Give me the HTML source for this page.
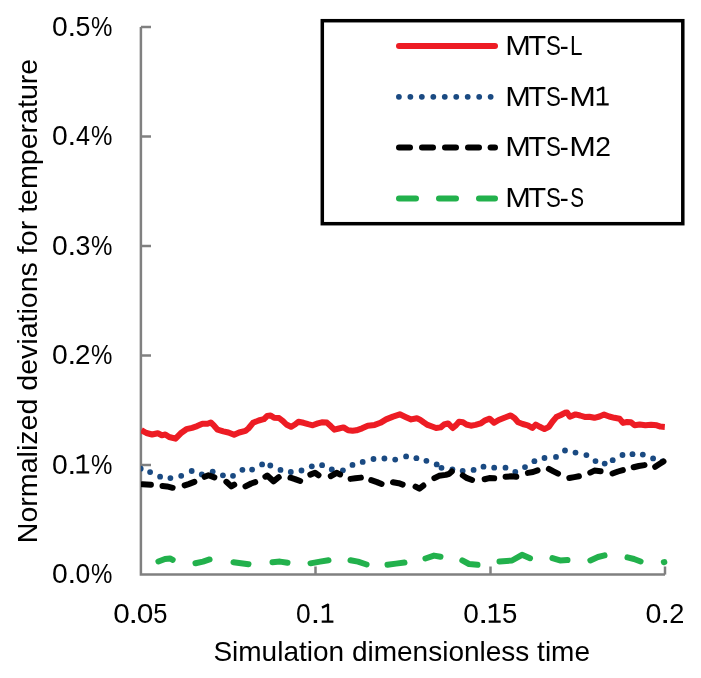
<!DOCTYPE html><html><head><meta charset="utf-8"><style>html,body{margin:0;padding:0;background:#fff;width:701px;height:678px;overflow:hidden}svg{display:block}text{font-family:"Liberation Sans",sans-serif;fill:#000}svg{will-change:transform}</style></head><body>
<svg width="701" height="678" viewBox="0 0 701 678">
<rect width="701" height="678" fill="#fff"/>
<defs><clipPath id="pc"><rect x="141" y="0" width="560" height="574"/></clipPath></defs>
<g stroke="#808080" stroke-width="2.5" fill="none">
<path d="M140.9,27V574.6H665"/>
<path d="M140.9,27H151"/>
<path d="M140.9,136.5H151"/>
<path d="M140.9,246H151"/>
<path d="M140.9,355.5H151"/>
<path d="M140.9,465H151"/>
<path d="M315.5,574.6V566.5"/>
<path d="M490.5,574.6V566.5"/>
<path d="M665,574.6V566.5"/>
</g>
<text transform="translate(52.00,35.60) scale(1.009,1)" font-size="28">0</text>
<text transform="translate(67.46,35.60) scale(1.116,1)" font-size="28">.</text>
<text transform="translate(75.43,35.60) scale(0.957,1)" font-size="28">5</text>
<text transform="translate(91.03,35.60) scale(0.860,1)" font-size="28">%</text>
<text transform="translate(52.00,145.10) scale(1.009,1)" font-size="28">0</text>
<text transform="translate(67.46,145.10) scale(1.116,1)" font-size="28">.</text>
<text transform="translate(75.92,145.10) scale(0.900,1)" font-size="28">4</text>
<text transform="translate(91.03,145.10) scale(0.860,1)" font-size="28">%</text>
<text transform="translate(52.00,254.60) scale(1.009,1)" font-size="28">0</text>
<text transform="translate(67.46,254.60) scale(1.116,1)" font-size="28">.</text>
<text transform="translate(75.48,254.60) scale(0.957,1)" font-size="28">3</text>
<text transform="translate(91.03,254.60) scale(0.860,1)" font-size="28">%</text>
<text transform="translate(52.00,364.10) scale(1.009,1)" font-size="28">0</text>
<text transform="translate(67.46,364.10) scale(1.116,1)" font-size="28">.</text>
<text transform="translate(75.11,364.10) scale(0.995,1)" font-size="28">2</text>
<text transform="translate(91.03,364.10) scale(0.860,1)" font-size="28">%</text>
<text transform="translate(52.00,473.60) scale(1.009,1)" font-size="28">0</text>
<text transform="translate(67.46,473.60) scale(1.116,1)" font-size="28">.</text>
<path d="M83.36,454.96V473.60M83.96,455.26L76.80,458.55M76.50,472.45H89.20" fill="none" stroke="#000" stroke-width="2.3" stroke-linejoin="round"/>
<text transform="translate(91.03,473.60) scale(0.860,1)" font-size="28">%</text>
<text transform="translate(52.00,583.10) scale(1.009,1)" font-size="28">0</text>
<text transform="translate(67.46,583.10) scale(1.116,1)" font-size="28">.</text>
<text transform="translate(75.46,583.10) scale(0.949,1)" font-size="28">0</text>
<text transform="translate(91.03,583.10) scale(0.860,1)" font-size="28">%</text>
<text transform="translate(113.14,622.70) scale(1.061,1)" font-size="28">0</text>
<text transform="translate(128.57,622.70) scale(1.228,1)" font-size="28">.</text>
<text transform="translate(136.63,622.70) scale(1.068,1)" font-size="28">0</text>
<text transform="translate(153.18,622.70) scale(0.912,1)" font-size="28">5</text>
<text transform="translate(296.07,622.70) scale(0.941,1)" font-size="28">0</text>
<text transform="translate(310.48,622.70) scale(1.265,1)" font-size="28">.</text>
<path d="M328.02,604.06V622.70M328.62,604.36L322.00,607.65M321.70,621.55H333.40" fill="none" stroke="#000" stroke-width="2.3" stroke-linejoin="round"/>
<text transform="translate(463.31,622.70) scale(1.001,1)" font-size="28">0</text>
<text transform="translate(477.89,622.70) scale(1.339,1)" font-size="28">.</text>
<path d="M495.18,604.06V622.70M495.78,604.36L489.00,607.65M488.70,621.55H500.70" fill="none" stroke="#000" stroke-width="2.3" stroke-linejoin="round"/>
<text transform="translate(501.89,622.70) scale(0.987,1)" font-size="28">5</text>
<text transform="translate(645.58,622.70) scale(1.024,1)" font-size="28">0</text>
<text transform="translate(659.99,622.70) scale(1.339,1)" font-size="28">.</text>
<text transform="translate(669.14,622.70) scale(0.971,1)" font-size="28">2</text>
<text x="213.4" y="661.1" font-size="28">Simulation dimensionless time</text>
<text transform="translate(37.3,543.2) rotate(-90) scale(1.003,1)" font-size="28.5">Normalized deviations for temperature</text>
<g clip-path="url(#pc)">
<polyline points="141.3,430.1 146.4,433 152.1,434.5 157.8,433.3 161.8,435.3 165.3,434.5 169.2,437 175.5,438.7 180.7,433.3 186.4,429.2 192.1,427.8 197.2,426.1 202.4,423.8 207.5,423.8 210.8,422.5 214.1,425.7 217.6,429.7 223.3,431.4 228.4,432.5 234.1,434.8 239.2,432.5 245.5,430.8 248.4,428.5 253,422.8 258.7,420.5 263.8,419.2 267.2,416 270.6,415.4 274.1,417.7 279,418 283,421.1 286.4,424.5 291,426.8 295,424.5 298.4,421.7 303.5,422.8 308.1,424.2 312.7,425.3 317.8,423.4 321.8,422.3 326.9,422.6 330.9,426.3 334.4,429.7 338.9,428.5 343.5,427.4 348.1,430.3 352.6,430.8 356.4,430.3 362.1,428.3 367.8,425.7 374.7,424.9 380.4,422.8 386.1,419.4 393,416.6 399.8,414.3 405.5,416.9 411.2,419.4 416.9,418.2 419.6,419.4 423.6,422.3 427.6,424.9 432.1,426.5 436.1,428 440.7,427.4 444.1,424.5 448.1,423.4 452.7,428 456.1,425.1 459,421.7 463,422.3 466.4,424.5 470.9,425.7 475.5,424.9 480.6,423.4 485.2,420.3 489.7,418.7 494.1,422.8 498.7,420 504.4,417.7 510.7,415.4 514.7,418.3 518.1,422.3 522.7,424 527.8,425.3 532.4,428 535.8,424.5 539.8,426.8 544.4,429.1 548.9,426.8 552.4,421.7 556.3,417.1 560.9,415 564.9,412.8 567,412.4 569.8,416.7 575.5,414.4 580.1,415.5 584.7,416.9 589.2,416.7 594.4,417.8 599.5,416.5 604.1,414.6 609.2,416.5 614.4,417.8 619.5,418.7 623,422.9 627,422 631,422.2 634.6,425.3 639.7,424.5 645.4,425.3 651.1,424.8 656.8,425.3 660.5,426.6 664.8,426.9" fill="none" stroke="#ED1C24" stroke-width="6" stroke-linejoin="round" stroke-linecap="butt"/>
<g fill="#1A4A82">
<circle cx="140.7" cy="468.7" r="2.9"/>
<circle cx="150.1" cy="472.1" r="2.9"/>
<circle cx="160.1" cy="476.7" r="2.9"/>
<circle cx="170.4" cy="478.1" r="2.9"/>
<circle cx="181.2" cy="475.8" r="2.9"/>
<circle cx="191.7" cy="471" r="2.9"/>
<circle cx="201.8" cy="474.4" r="2.9"/>
<circle cx="212.7" cy="471.6" r="2.9"/>
<circle cx="222.9" cy="475.3" r="2.9"/>
<circle cx="233" cy="475.8" r="2.9"/>
<circle cx="242.4" cy="469.8" r="2.9"/>
<circle cx="252.1" cy="469.6" r="2.9"/>
<circle cx="262.1" cy="464.4" r="2.9"/>
<circle cx="270.3" cy="465.5" r="2.9"/>
<circle cx="280.5" cy="469.9" r="2.9"/>
<circle cx="290.8" cy="472" r="2.9"/>
<circle cx="301.5" cy="470.5" r="2.9"/>
<circle cx="311.8" cy="466.3" r="2.9"/>
<circle cx="322.1" cy="465.2" r="2.9"/>
<circle cx="331.8" cy="469.4" r="2.9"/>
<circle cx="342.9" cy="470.3" r="2.9"/>
<circle cx="352.5" cy="464.9" r="2.9"/>
<circle cx="362.7" cy="461.9" r="2.9"/>
<circle cx="373.5" cy="459" r="2.9"/>
<circle cx="384.4" cy="458.5" r="2.9"/>
<circle cx="395.2" cy="459.6" r="2.9"/>
<circle cx="406.1" cy="456.4" r="2.9"/>
<circle cx="416.4" cy="458.2" r="2.9"/>
<circle cx="426.4" cy="460.8" r="2.9"/>
<circle cx="436.7" cy="464.4" r="2.9"/>
<circle cx="441.5" cy="467.8" r="2.9"/>
<circle cx="452.4" cy="469.3" r="2.9"/>
<circle cx="462.7" cy="470.8" r="2.9"/>
<circle cx="473.6" cy="469.9" r="2.9"/>
<circle cx="483.5" cy="466.7" r="2.9"/>
<circle cx="494.2" cy="467.7" r="2.9"/>
<circle cx="505.5" cy="467.7" r="2.9"/>
<circle cx="515.3" cy="472" r="2.9"/>
<circle cx="525" cy="467.1" r="2.9"/>
<circle cx="534.4" cy="461.2" r="2.9"/>
<circle cx="544.5" cy="458" r="2.9"/>
<circle cx="556" cy="456.9" r="2.9"/>
<circle cx="565" cy="450.5" r="2.9"/>
<circle cx="575.5" cy="452.6" r="2.9"/>
<circle cx="586.4" cy="455.1" r="2.9"/>
<circle cx="595.5" cy="461.1" r="2.9"/>
<circle cx="604.7" cy="463.6" r="2.9"/>
<circle cx="612.7" cy="460.2" r="2.9"/>
<circle cx="622.5" cy="455" r="2.9"/>
<circle cx="632.5" cy="454.2" r="2.9"/>
<circle cx="642.8" cy="454.6" r="2.9"/>
<circle cx="653.1" cy="458.4" r="2.9"/>
<circle cx="662.5" cy="461.5" r="2.9"/>
</g>
<g fill="none" stroke="#000" stroke-width="6" stroke-linejoin="round" stroke-linecap="round">
<polyline points="142.497,484.189 150.903,484.811"/>
<polyline points="162.497,486.084 167,486.4 172.636,487.809"/>
<polyline points="184.638,485.421 188.6,484.1 194.377,481.923"/>
<polyline points="204.606,476.835 208.5,475.2 214.375,477.382"/>
<polyline points="226.378,481.818 231.3,486.4 234.26,484.698"/>
<polyline points="245.467,486.451 251.2,483.5 255.259,482.173"/>
<polyline points="265.409,476.651 267.2,475.5 273.5,481.3 278.751,477.235"/>
<polyline points="290.45,477.743 295,479.1 300.173,480.988"/>
<polyline points="310.315,474.658 315,472.8 318.522,475.305"/>
<polyline points="330.834,476.192 336.6,472.8 340.108,474.402"/>
<polyline points="350.592,478.859 355.3,478.3 360.908,477.64"/>
<polyline points="371.238,480.179 377,482.1 381.587,483.951"/>
<polyline points="392.985,482.289 398.7,483.2 402.668,484.601"/>
<polyline points="415.551,486.579 419.4,488.7 423.361,485.547"/>
<polyline points="434.37,478.156 439,475.8 445.8,474.9 449.2,473.8 451.802,471.496"/>
<polyline points="462.785,475.385 466.4,477.9 472.074,479.986"/>
<polyline points="484.665,479.214 489.2,478.1 494.201,478.342"/>
<polyline points="505.597,476.713 511.3,476.3 516.304,476.704"/>
<polyline points="527.882,472.894 533,472 537.574,470.315"/>
<polyline points="548.854,468.873 553.5,471.4 558.027,473.663"/>
<polyline points="569.282,477.994 574.4,477.1 578.922,476.227"/>
<polyline points="590.282,472.58 594.4,470.6 600.607,471.271"/>
<polyline points="612.528,473.49 618,471.5 622.851,470.045"/>
<polyline points="633.667,467.222 638.8,466 644.515,465.089"/>
<polyline points="655.204,466.843 659.4,464.1 663.493,461.452"/>
</g>
<g fill="none" stroke="#22B14C" stroke-width="6" stroke-linejoin="round" stroke-linecap="round">
<polyline points="158.404,561.473 165,559 170,558.4 172.686,559.877"/>
<polyline points="195.464,563.275 203,561.6 209.573,559.464"/>
<polyline points="233.487,562.198 248.513,564.202"/>
<polyline points="272.494,562.267 280,561.6 287.518,562.769"/>
<polyline points="310.476,563.332 320,561.6 328.519,560.237"/>
<polyline points="350.477,560.263 358,561.6 366.58,564.517"/>
<polyline points="387.486,564.792 396,563.6 404.511,562.579"/>
<polyline points="425.42,558.517 434,555.6 440.522,556.741"/>
<polyline points="462.314,560.323 469,564 477.507,564.851"/>
<polyline points="499.495,561.572 512,560.5 522,554.8 530.02,558.213"/>
<polyline points="552.432,558.046 560,560.4 567.501,560.067"/>
<polyline points="590.371,560.391 598,557 604.545,555.364"/>
<polyline points="627.455,557.364 634,559 640.596,561.473"/>
<polyline points="663.81,562.22 664.354,562.099"/>
</g>
</g>
<rect x="322.3" y="20.7" width="360.5" height="203" fill="#fff" stroke="#000" stroke-width="3.5"/>
<line x1="399" y1="45.9" x2="495" y2="45.9" stroke="#ED1C24" stroke-width="6" stroke-linecap="round"/>
<circle cx="398.90" cy="96.8" r="2.9" fill="#1A4A82"/>
<circle cx="410.37" cy="96.8" r="2.9" fill="#1A4A82"/>
<circle cx="421.84" cy="96.8" r="2.9" fill="#1A4A82"/>
<circle cx="433.31" cy="96.8" r="2.9" fill="#1A4A82"/>
<circle cx="444.78" cy="96.8" r="2.9" fill="#1A4A82"/>
<circle cx="456.25" cy="96.8" r="2.9" fill="#1A4A82"/>
<circle cx="467.72" cy="96.8" r="2.9" fill="#1A4A82"/>
<circle cx="479.19" cy="96.8" r="2.9" fill="#1A4A82"/>
<circle cx="490.66" cy="96.8" r="2.9" fill="#1A4A82"/>
<line x1="399" y1="147.6" x2="410" y2="147.6" stroke="#000" stroke-width="6" stroke-linecap="round"/>
<line x1="422" y1="147.6" x2="433" y2="147.6" stroke="#000" stroke-width="6" stroke-linecap="round"/>
<line x1="445" y1="147.6" x2="456" y2="147.6" stroke="#000" stroke-width="6" stroke-linecap="round"/>
<line x1="468" y1="147.6" x2="479" y2="147.6" stroke="#000" stroke-width="6" stroke-linecap="round"/>
<line x1="490.6" y1="147.6" x2="495" y2="147.6" stroke="#000" stroke-width="6" stroke-linecap="round"/>
<line x1="399" y1="198.6" x2="416" y2="198.6" stroke="#22B14C" stroke-width="6" stroke-linecap="round"/>
<line x1="439" y1="198.6" x2="456" y2="198.6" stroke="#22B14C" stroke-width="6" stroke-linecap="round"/>
<line x1="479" y1="198.6" x2="495" y2="198.6" stroke="#22B14C" stroke-width="6" stroke-linecap="round"/>
<text transform="translate(505.18,54.80) scale(1.108,1)" font-size="27.8">M</text>
<text transform="translate(528.47,54.80) scale(1.036,1)" font-size="27.8">T</text>
<text transform="translate(546.08,54.80) scale(0.801,1)" font-size="27.8">S</text>
<text transform="translate(559.81,54.80) scale(0.969,1)" font-size="27.8">-</text>
<text transform="translate(570.06,54.80) scale(0.808,1)" font-size="27.8">L</text>
<text transform="translate(505.18,105.50) scale(1.108,1)" font-size="27.8">M</text>
<text transform="translate(528.47,105.50) scale(1.036,1)" font-size="27.8">T</text>
<text transform="translate(546.08,105.50) scale(0.801,1)" font-size="27.8">S</text>
<text transform="translate(559.81,105.50) scale(0.969,1)" font-size="27.8">-</text>
<text transform="translate(569.28,105.50) scale(1.151,1)" font-size="27.8">M</text>
<path d="M603.18,87.00V105.50M603.78,87.30L597.00,90.56M596.70,104.35H608.70" fill="none" stroke="#000" stroke-width="2.3" stroke-linejoin="round"/>
<text transform="translate(505.18,156.20) scale(1.108,1)" font-size="27.8">M</text>
<text transform="translate(528.47,156.20) scale(1.036,1)" font-size="27.8">T</text>
<text transform="translate(546.08,156.20) scale(0.801,1)" font-size="27.8">S</text>
<text transform="translate(559.81,156.20) scale(0.969,1)" font-size="27.8">-</text>
<text transform="translate(569.28,156.20) scale(1.151,1)" font-size="27.8">M</text>
<text transform="translate(595.29,156.20) scale(1.018,1)" font-size="27.8">2</text>
<text transform="translate(505.18,206.70) scale(1.108,1)" font-size="27.8">M</text>
<text transform="translate(528.47,206.70) scale(1.036,1)" font-size="27.8">T</text>
<text transform="translate(546.08,206.70) scale(0.801,1)" font-size="27.8">S</text>
<text transform="translate(559.81,206.70) scale(0.969,1)" font-size="27.8">-</text>
<text transform="translate(570.15,206.70) scale(0.744,1)" font-size="27.8">S</text>
</svg></body></html>
